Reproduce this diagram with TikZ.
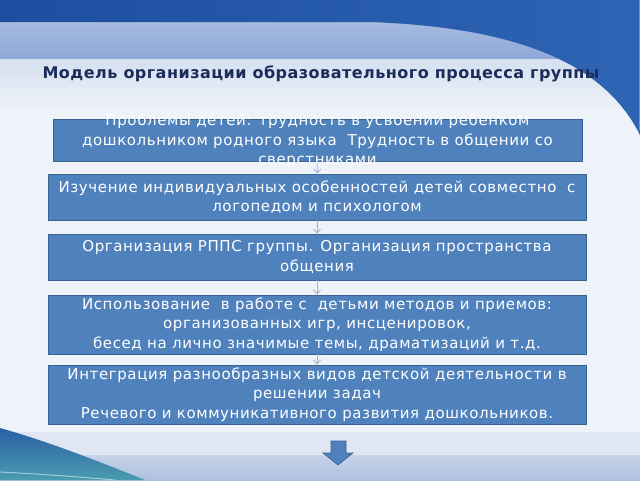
\documentclass[tikz,border=0pt]{standalone}
\usepackage{fontspec}
\setmainfont{DejaVu Sans}
\newfontfamily\boxfont[LetterSpace=4.0]{DejaVu Sans}
\newfontfamily\titlefont[LetterSpace=3.0]{DejaVu Sans}
\usetikzlibrary{arrows.meta}
\definecolor{bgwhite}{HTML}{EEF2F9}
\definecolor{bandtop}{HTML}{A6BBE0}
\definecolor{bandblue}{HTML}{8FA9D7}
\definecolor{fadeblue}{HTML}{D5DFEF}
\definecolor{darkblue}{HTML}{1D4E9F}
\definecolor{midblue}{HTML}{2E64B4}
\definecolor{tealc}{HTML}{4FA6BE}
\definecolor{boxfill}{HTML}{4F81BD}
\definecolor{boxline}{HTML}{3A6190}
\definecolor{titlec}{HTML}{1B2B5A}
\definecolor{linkc}{HTML}{9AB0D3}
\definecolor{midband}{HTML}{E0E7F3}
\definecolor{lowband}{HTML}{C6D3E9}
\definecolor{lowdark}{HTML}{AFC1DF}
\definecolor{swdark}{HTML}{2C5FA6}
\definecolor{swteal}{HTML}{4A9CAF}
\tikzset{
  boxst/.style={draw=boxline, line width=0.8pt, fill=boxfill, inner sep=0pt},
  txtst/.style={text=white, align=center, font=\boxfont\fontsize{15}{19.5}\selectfont, inner sep=0pt},
  linkst/.style={draw=linkc, line width=0.8pt, -{Straight Barb[length=4pt,width=7pt]}},
}
\begin{document}
\begin{tikzpicture}[x=1pt,y=-1pt]
\useasboundingbox (0,0) rectangle (640,480);
% background
\fill[bgwhite] (0,0) rectangle (640,480);
\shade[top color=fadeblue, bottom color=bgwhite] (0,58) rectangle (640,110);
\shade[top color=bandtop, bottom color=bandblue] (0,20) rectangle (640,58);
\shade[left color=darkblue, right color=midblue]
  (0,0) -- (640,0) -- (640,135) .. controls (610,75) and (540,28) .. (370,22) -- (0,22) -- cycle;
\draw[tealc, line width=2pt] (640,0) -- (640,130);
% bottom band
\fill[midband] (0,432) rectangle (640,455);
\shade[top color=lowband, bottom color=lowdark] (0,455) rectangle (640,480);
\shade[top color=swdark, bottom color=swteal]
  (0,428) .. controls (50,442) and (100,462) .. (145,480) -- (0,480) -- cycle;
\draw[white, opacity=0.5, line width=1pt] (0,472) .. controls (40,474) and (80,477) .. (115,480);
% title
\node[font=\titlefont\bfseries\fontsize{16}{19}\selectfont, text=titlec] (title) at (321,74)
  {Модель организации образовательного процесса группы};
% boxes
\node[boxst, minimum width=529pt, minimum height=42pt] (b1) at (317.5,140) {};
\node[boxst, minimum width=538pt, minimum height=46pt] (b2) at (317,197) {};
\node[boxst, minimum width=538pt, minimum height=46pt] (b3) at (317,257) {};
\node[boxst, minimum width=538pt, minimum height=59pt] (b4) at (317,324.5) {};
\node[boxst, minimum width=538pt, minimum height=59pt] (b5) at (317,394.5) {};
% links
\draw[linkst] (b1) -- (b2);
\draw[linkst] (b2) -- (b3);
\draw[linkst] (b3) -- (b4);
\draw[linkst] (b4) -- (b5);
% texts
\node[txtst] (t1) at (317.5,141) {Проблемы детей: трудность в усвоении ребенком\\дошкольником родного языка\ \ Трудность в общении со\\сверстниками};
\node[txtst] (t2) at (317,197) {Изучение индивидуальных особенностей детей совместно\ \ с\\логопедом и психологом};
\node[txtst] (t3) at (317,257) {Организация РППС группы. Организация пространства\\общения};
\node[txtst] (t4) at (317,324.5) {Использование\ \ в работе с\ \ детьми методов и приемов:\\организованных игр, инсценировок,\\бесед на лично значимые темы, драматизаций и т.д.};
\node[txtst] (t5) at (317,394.5) {Интеграция разнообразных видов детской деятельности в\\решении задач\\Речевого и коммуникативного развития дошкольников.};
% big arrow
\fill[boxfill, draw=boxline, line width=0.6pt]
  (331,441) -- (346,441) -- (346,453) -- (353,453) -- (338,465) -- (323,453) -- (331,453) -- cycle;
\end{tikzpicture}
\end{document}
